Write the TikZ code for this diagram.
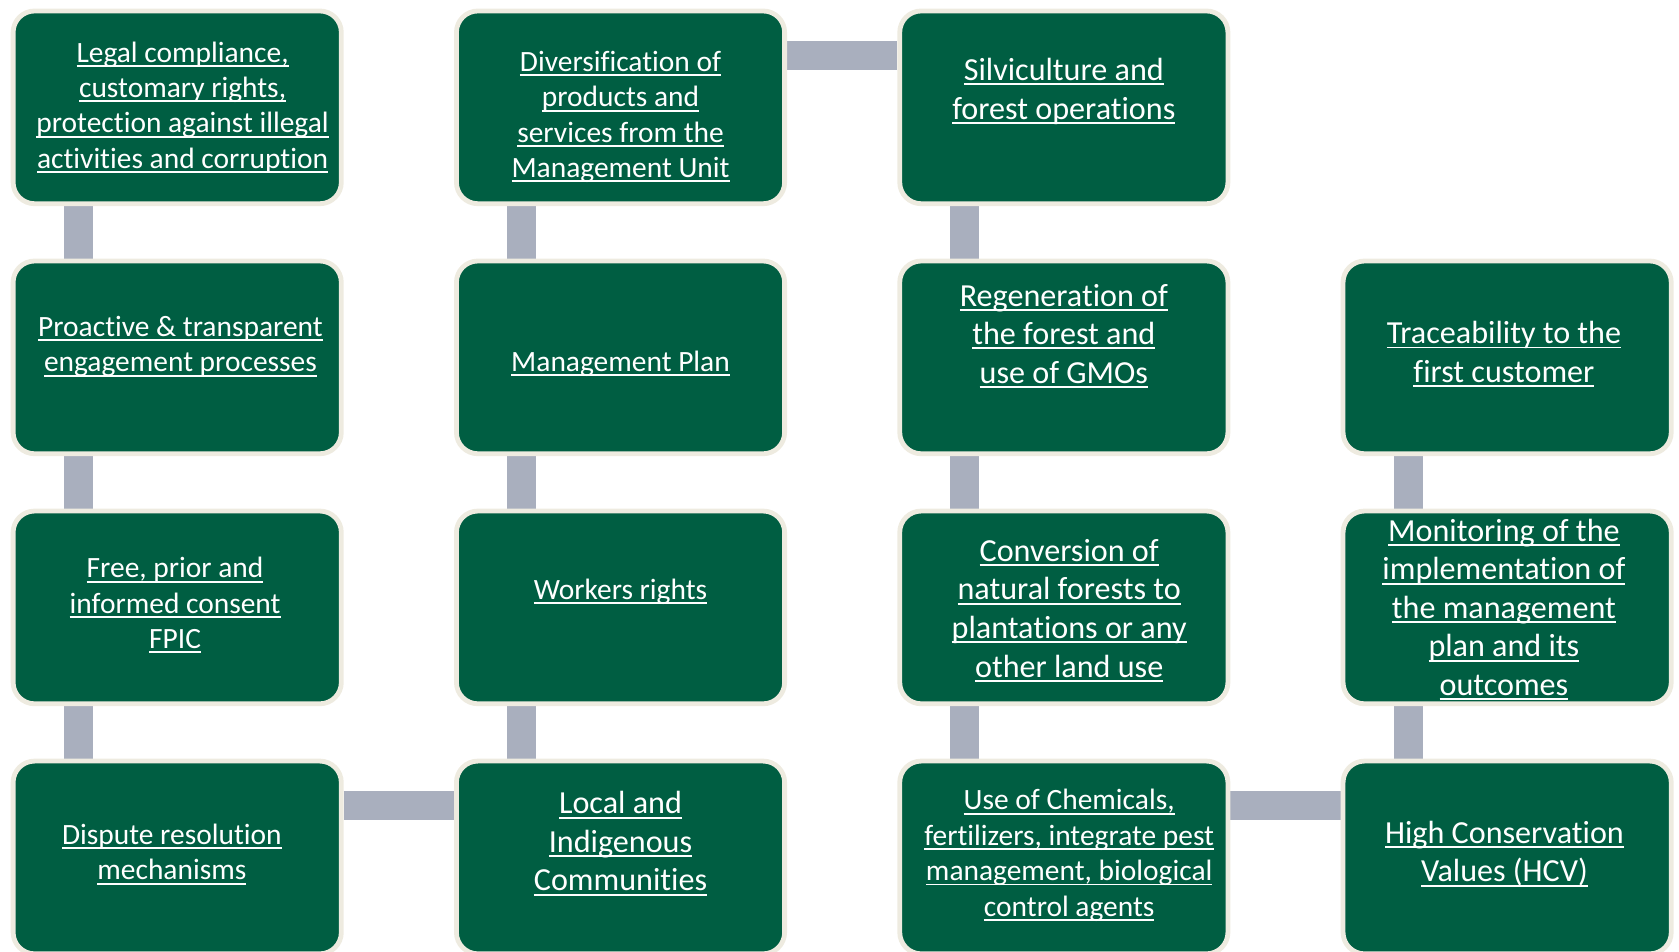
\documentclass[tikz,border=0pt]{standalone}
\usepackage{fontspec}
\setmainfont{Carlito}[Ligatures=NoCommon]
\usepackage{xcolor}
\definecolor{boxgreen}{RGB}{0,94,66}
\definecolor{boxrim}{RGB}{238,235,224}
\definecolor{linkgray}{RGB}{169,175,190}
\usepackage{tikz}
\usetikzlibrary{positioning}
\usetikzlibrary{backgrounds}
\newcommand\ulink[1]{\setbox0=\hbox{#1}\rlap{\rule[-4.5pt]{\wd0}{1.8pt}}\box0}

\begin{document}
\begin{tikzpicture}[node distance=49pt and 103pt,
	card/.style={draw=boxrim,line width=4.5pt,fill=boxgreen,rounded corners=20pt,
		minimum width=306.5pt,minimum height=180pt},
	cardtext/.style={align=center,text=white,inner sep=0pt,
		font=\fontsize{27.5pt}{33pt}\selectfont},
	bigtext/.style={cardtext,font=\fontsize{30pt}{36pt}\selectfont},
	link/.style={draw=linkgray,line width=27pt}]
	\useasboundingbox (0,0) rectangle (1568pt,-889pt);
	% first column
	\node[card,label={[cardtext,name=legal-t,xshift=5pt]center:{\ulink{Legal compliance,}\\\ulink{customary rights,}\\\ulink{protection against illegal}\\\ulink{activities and corruption}}}] (legal) at (165.5pt,-100.25pt) {};
	\node[card,label={[cardtext,name=engage-t,xshift=3pt,yshift=10pt]center:{\ulink{Proactive \& transparent}\\\ulink{engagement processes}}}] (engage) [below=of legal] {};
	\node[card,label={[cardtext,name=fpic-t,xshift=-2pt,yshift=2pt]center:{\ulink{Free, prior and}\\\ulink{informed consent}\\\ulink{FPIC}}}] (fpic) [below=of engage] {};
	\node[card,label={[cardtext,name=dispute-t,xshift=-5pt,yshift=3pt]center:{\ulink{Dispute resolution}\\\ulink{mechanisms}}}] (dispute) [below=of fpic] {};
	% second column
	\node[card,label={[cardtext,name=divers-t,yshift=-9pt]center:{\ulink{Diversification of}\\\ulink{products and}\\\ulink{services from the}\\\ulink{Management Unit}}}] (divers) [right=of legal] {};
	\node[card,label={[cardtext,name=plan-t,yshift=-6pt]center:{\ulink{Management Plan}}}] (plan) [right=of engage] {};
	\node[card,label={[cardtext,name=workers-t,yshift=15pt]center:{\ulink{Workers rights}}}] (workers) [right=of fpic] {};
	\node[card,label={[bigtext,name=local-t,yshift=13pt]center:{\ulink{Local and}\\\ulink{Indigenous}\\\ulink{Communities}}}] (local) [right=of dispute] {};
	% third column
	\node[card,label={[bigtext,name=silvi-t,yshift=15pt]center:{\ulink{Silviculture and}\\\ulink{forest operations}}}] (silvi) [right=of divers] {};
	\node[card,label={[bigtext,name=regen-t,yshift=20pt]center:{\ulink{Regeneration of}\\\ulink{the forest and}\\\ulink{use of GMOs}}}] (regen) [right=of plan] {};
	\node[card,label={[bigtext,name=convers-t,xshift=5pt,yshift=-3pt]center:{\ulink{Conversion of}\\\ulink{natural forests to}\\\ulink{plantations or any}\\\ulink{other land use}}}] (convers) [right=of workers] {};
	\node[card,label={[cardtext,name=chem-t,xshift=5pt,yshift=2pt]center:{\ulink{Use of Chemicals,}\\\ulink{fertilizers, integrate pest}\\\ulink{management, biological}\\\ulink{control agents}}}] (chem) [right=of local] {};
	% fourth column
	\node[card,label={[bigtext,name=trace-t,xshift=-3pt,yshift=3pt]center:{\ulink{Traceability to the}\\\ulink{first customer}}}] (trace) [right=of regen] {};
	\node[card,label={[bigtext,name=monitor-t,xshift=-3pt,yshift=-2pt]center:{\ulink{Monitoring of the}\\\ulink{implementation of}\\\ulink{the management}\\\ulink{plan and its}\\\ulink{outcomes}}}] (monitor) [right=of convers] {};
	\node[card,label={[bigtext,name=hcv-t,xshift=-2.5pt,yshift=3.5pt]center:{\ulink{High Conservation}\\\ulink{Values (HCV)}}}] (hcv) [right=of chem] {};
	\begin{scope}[on background layer]
	\foreach \a/\b in {legal/engage,engage/fpic,fpic/dispute,divers/plan,plan/workers,workers/local,
		silvi/regen,regen/convers,convers/chem,trace/monitor,monitor/hcv}
		\draw[link] ([xshift=63pt]\a.south west) -- ([xshift=63pt]\b.north west);
	\foreach \a/\b in {divers/silvi,dispute/local,chem/hcv}
		\draw[link] ([yshift=-44pt]\a.north east) -- ([yshift=-44pt]\b.north west);
	\end{scope}
\end{tikzpicture}
\end{document}
